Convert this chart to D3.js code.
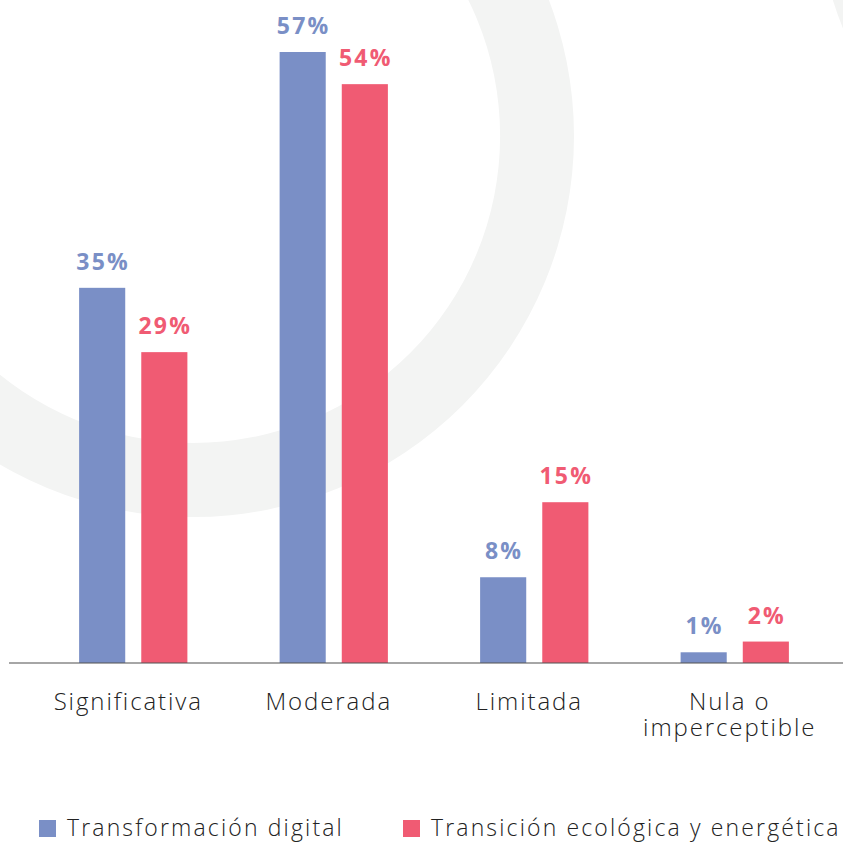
<!DOCTYPE html>
<html>
<head>
<meta charset="utf-8">
<script src="https://cdn.jsdelivr.net/npm/d3@7"></script>
<style>
  html, body { margin: 0; padding: 0; background: #ffffff; }
  svg { display: block; }
</style>
</head>
<body>
<script>
// ---- Data ----
const categories = ["Significativa", "Moderada", "Limitada", "Nula o imperceptible"];
const categoryLines = [["Significativa"], ["Moderada"], ["Limitada"], ["Nula o", "imperceptible"]];
const seriesNames = ["Transformación digital", "Transición ecológica y energética"];
const digitalValues = [35, 57, 8, 1];
const ecologicaValues = [29, 54, 15, 2];
const seriesColors = ["#7a8fc6", "#f05b73"];

const W = 843, H = 842;
const svg = d3.select("body").append("svg").attr("width", W).attr("height", H);

// background decorative rings
const ring = d3.arc();
svg.append("path")
  .attr("transform", "translate(193,136)")
  .attr("d", ring({innerRadius: 307, outerRadius: 381, startAngle: 0, endAngle: 2 * Math.PI}))
  .attr("fill", "#f3f4f3");
svg.append("path")
  .attr("transform", "translate(1167,-104)")
  .attr("d", ring({innerRadius: 276, outerRadius: 350, startAngle: 0, endAngle: 2 * Math.PI}))
  .attr("fill", "#f3f4f3");

const baseY = 663;
const y = d3.scaleLinear().domain([0, 57]).range([baseY, 52]);
const x0 = d3.scaleBand().domain(categories).range([33, 835]).paddingInner(0.46).paddingOuter(0.23);
const x1 = d3.scaleBand().domain(seriesNames).range([0, x0.bandwidth()]).paddingInner(16 / 62);

const rows = categories.map((c, i) => ({
  cat: c,
  vals: [
    {s: seriesNames[0], v: digitalValues[i], color: seriesColors[0]},
    {s: seriesNames[1], v: ecologicaValues[i], color: seriesColors[1]}
  ]
}));

const g = svg.append("g").selectAll("g").data(rows).join("g")
  .attr("transform", d => `translate(${x0(d.cat)},0)`);

g.selectAll("rect").data(d => d.vals).join("rect")
  .attr("x", d => x1(d.s))
  .attr("width", x1.bandwidth())
  .attr("y", d => y(d.v))
  .attr("height", d => baseY - y(d.v))
  .attr("fill", d => d.color);

g.selectAll("text.val").data(d => d.vals).join("text")
  .attr("class", "val")
  .attr("x", d => x1(d.s) + x1.bandwidth() / 2 + 1)
  .attr("y", d => y(d.v) - 18)
  .attr("text-anchor", "middle")
  .attr("font-family", "'Open Sans', Lato, sans-serif")
  .attr("font-weight", 700)
  .attr("font-size", 23)
  .attr("letter-spacing", 2.2)
  .attr("fill", d => d.color)
  .text(d => d.v + "%");

// baseline axis
const axis = d3.axisBottom(x0).tickSize(0).tickFormat("");
const ax = svg.append("g").attr("transform", `translate(0,${baseY})`).call(axis);
ax.select(".domain").remove();
svg.append("line")
  .attr("x1", 9).attr("x2", W).attr("y1", baseY).attr("y2", baseY)
  .attr("stroke", "#555").attr("stroke-opacity", 0.7).attr("stroke-width", 1.5);

// category labels
categories.forEach((c, i) => {
  const cx = x0(c) + x0.bandwidth() / 2 - 5;
  const t = svg.append("text")
    .attr("x", cx)
    .attr("y", 710)
    .attr("text-anchor", "middle")
    .attr("font-family", "'Open Sans', Lato, sans-serif")
    .attr("font-weight", 300)
    .attr("font-size", 24)
    .attr("letter-spacing", 1.9)
    .attr("fill", "#222");
  categoryLines[i].forEach((line, j) => {
    t.append("tspan").attr("x", cx).attr("dy", j === 0 ? 0 : 26).text(line);
  });
});

// legend
const legendX = [39, 403];
seriesNames.forEach((s, i) => {
  svg.append("rect").attr("x", legendX[i]).attr("y", 820).attr("width", 17).attr("height", 17).attr("fill", seriesColors[i]);
  svg.append("text")
    .attr("x", legendX[i] + 28)
    .attr("y", 836)
    .attr("font-family", "'Open Sans', Lato, sans-serif")
    .attr("font-weight", 300)
    .attr("font-size", 23)
    .attr("letter-spacing", 2.15)
    .attr("fill", "#222")
    .text(s);
});
</script>
</body>
</html>
